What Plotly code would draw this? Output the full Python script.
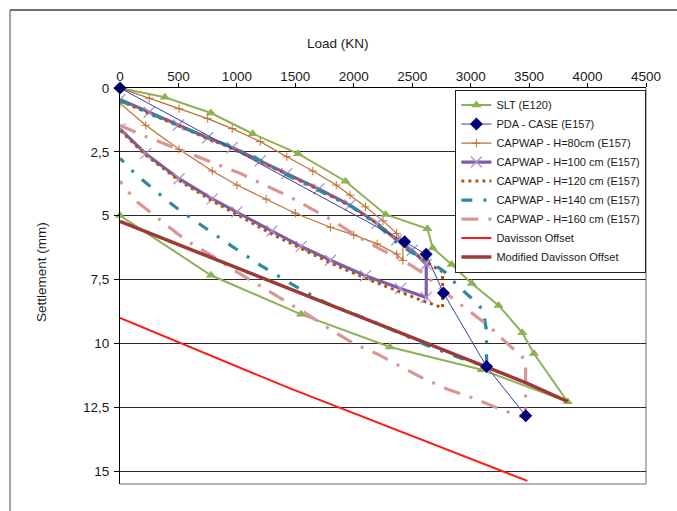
import plotly.graph_objects as go

# ---------------- data (Load kN, Settlement mm) ----------------
slt_load = [0, 384, 778, 1136, 1524, 1929, 2272, 2630, 2675, 2837, 3010, 3239, 3442, 3541, 3830,
            3095, 2309, 1549, 778, 0]
slt_settle = [0, 0.36, 0.98, 1.79, 2.57, 3.65, 4.95, 5.51, 6.26, 6.91, 7.65, 8.51, 9.58, 10.39, 12.28,
              11.03, 10.14, 8.86, 7.33, 4.99]

pda_load = [0, 2435, 2619, 2767, 3136, 3471]
pda_settle = [0, 6.02, 6.51, 8.02, 10.9, 12.83]

c80_load = [0, 250, 505, 750, 960, 1200, 1427, 1650, 1850, 1968, 2100, 2250, 2367, 2420,
            2420, 2367, 2200, 2000, 1800, 1500, 1250, 1000, 789, 505, 220, 0]
c80_settle = [0, 0.4, 0.81, 1.2, 1.59, 2.1, 2.69, 3.25, 3.8, 4.19, 4.65, 5.2, 5.69, 6.0,
              6.75, 6.5, 6.1, 5.75, 5.45, 4.9, 4.35, 3.8, 3.25, 2.4, 1.46, 0.6]

c100_load = [0, 250, 500, 750, 960, 1200, 1427, 1700, 1968, 2200, 2367, 2500, 2620,
             2620, 2400, 2100, 1800, 1550, 1300, 1000, 789, 505, 220, 0]
c100_settle = [0.45, 0.95, 1.45, 1.95, 2.33, 2.85, 3.35, 3.95, 4.58, 5.3, 5.95, 6.35, 6.9,
               8.2, 7.85, 7.35, 6.74, 6.2, 5.6, 4.85, 4.34, 3.55, 2.57, 1.6]

c120_load = [0, 250, 500, 750, 960, 1200, 1427, 1700, 1968, 2200, 2367, 2500, 2650, 2760,
             2760, 2600, 2400, 2100, 1800, 1550, 1300, 1000, 789, 505, 220, 0]
c120_settle = [0.5, 1.0, 1.5, 1.98, 2.36, 2.88, 3.38, 3.98, 4.62, 5.3, 5.95, 6.4, 6.9, 7.2,
               8.6, 8.35, 8.0, 7.45, 6.85, 6.3, 5.72, 4.95, 4.42, 3.62, 2.63, 1.65]

c140_load = [0, 250, 500, 750, 960, 1200, 1427, 1700, 1968, 2200, 2367, 2500, 2651, 2780, 2880,
             3000, 3107, 3136, 3136, 2900, 2623, 2224, 1769, 1484, 1199, 943, 800, 660, 530,
             402, 277, 140, 0]
c140_settle = [0.48, 0.97, 1.47, 1.96, 2.31, 2.83, 3.41, 4.0, 4.6, 5.35, 6.05, 6.45, 6.8, 7.2, 7.7,
               8.2, 8.7, 9.5, 10.9, 10.55, 10.07, 9.25, 8.43, 7.72, 6.93, 6.15, 5.69, 5.25, 4.85,
               4.4, 3.94, 3.4, 2.75]

c160_load = [0, 191, 390, 618, 817, 1028, 1228, 1427, 1627, 1826, 2025, 2223, 2421, 2596, 2737,
             2936, 3164, 3278, 3362, 3470, 3470, 3400, 3221, 3000, 2808, 2600, 2400, 2196, 2000,
             1800, 1600, 1400, 1200, 1000, 800, 587, 488, 300, 132, 0]
c160_settle = [1.46, 1.85, 2.2, 2.6, 2.96, 3.34, 3.78, 4.2, 4.7, 5.2, 5.8, 6.3, 6.75, 7.25, 7.85,
               8.55, 9.35, 9.85, 10.2, 10.65, 12.9, 12.82, 12.51, 12.1, 11.8, 11.38, 10.9, 10.4, 10.0,
               9.45, 8.85, 8.3, 7.75, 7.2, 6.6, 6.02, 5.69, 5.0, 4.4, 3.65]

dav_load = [0, 1455, 3486]
dav_settle = [9.0, 11.76, 15.38]

mdav_load = [0, 3480, 3830]
mdav_settle = [5.22, 11.55, 12.27]

x_ticks = [0, 500, 1000, 1500, 2000, 2500, 3000, 3500, 4000, 4500]
y_ticks = [0, 2.5, 5, 7.5, 10, 12.5, 15]
y_ticktext = ["0", "2,5", "5", "7,5", "10", "12,5", "15"]

names = ["SLT (E120)", "PDA - CASE (E157)", "CAPWAP - H=80cm (E157)", "CAPWAP - H=100 cm (E157)",
         "CAPWAP - H=120 cm (E157)", "CAPWAP - H=140 cm (E157)", "CAPWAP - H=160 cm (E157)",
         "Davisson Offset", "Modified Davisson Offset"]

FONT = "Arial, Liberation Sans, sans-serif"

fig = go.Figure()

fig.add_trace(go.Scatter(x=slt_load, y=slt_settle, name=names[0], mode="lines+markers",
                         line=dict(color="#8DB255", width=2),
                         marker=dict(symbol="triangle-up", size=9, color="#8DB255"),
                         cliponaxis=False))
fig.add_trace(go.Scatter(x=c80_load, y=c80_settle, name=names[2], mode="lines+markers",
                         line=dict(color="#C0702E", width=1.2),
                         marker=dict(symbol="cross-thin-open", size=6, color="#C0702E",
                                     line=dict(width=1, color="#C0702E"))))
fig.add_trace(go.Scatter(x=c100_load, y=c100_settle, name=names[3], mode="lines+markers",
                         line=dict(color="#7B5EA7", width=3.2),
                         marker=dict(symbol="x-thin-open", size=11, color="#A896D8",
                                     line=dict(width=1.3, color="#A896D8"))))
fig.add_trace(go.Scatter(x=c120_load, y=c120_settle, name=names[4], mode="lines",
                         line=dict(color="#B2560F", width=3, dash="3px,4px")))
fig.add_trace(go.Scatter(x=c140_load, y=c140_settle, name=names[5], mode="lines",
                         line=dict(color="#2E8A9E", width=3.2, dash="11px,11px,3px,11px")))
fig.add_trace(go.Scatter(x=c160_load, y=c160_settle, name=names[6], mode="lines",
                         line=dict(color="#DA9695", width=3.2, dash="17px,10px,3px,10px")))
fig.add_trace(go.Scatter(x=dav_load, y=dav_settle, name=names[7], mode="lines",
                         line=dict(color="#FF1A1A", width=2)))
fig.add_trace(go.Scatter(x=mdav_load, y=mdav_settle, name=names[8], mode="lines",
                         line=dict(color="#9C3A36", width=3.5)))
fig.add_trace(go.Scatter(x=pda_load, y=pda_settle, name=names[1], mode="lines+markers",
                         line=dict(color="#3B3BB5", width=1),
                         marker=dict(symbol="diamond", size=10, color="#00007A"),
                         cliponaxis=False))

# legend order as in reference
order = {n: i for i, n in enumerate(names)}
for tr in fig.data:
    tr.legendrank = order[tr.name] + 1

fig.update_layout(
    width=677, height=511,
    margin=dict(l=120, r=31, t=88, b=27),
    paper_bgcolor="white", plot_bgcolor="white",
    font=dict(family=FONT, size=13, color="#1a1a1a"),
    showlegend=True,
    legend=dict(x=0.6376, y=0.996, xanchor="left", yanchor="top",
                bgcolor="white", bordercolor="#222222", borderwidth=1,
                font=dict(family=FONT, size=11, color="#1a1a1a"),
                tracegroupgap=0, itemwidth=30),
    xaxis=dict(range=[0, 4500], side="top", tickvals=x_ticks, showgrid=False, zeroline=False,
               showline=True, linecolor="black", linewidth=1, ticks="outside", ticklen=4,
               tickcolor="black", tickfont=dict(size=13.5), ticklabelstandoff=-3),
    yaxis=dict(range=[15.5, 0], tickvals=y_ticks, ticktext=y_ticktext, showgrid=True,
               gridcolor="#2a2a2a", gridwidth=1.4, zeroline=False, showline=True,
               linecolor="black", linewidth=1, ticks="outside", ticklen=5, tickcolor="black",
               tickfont=dict(size=13.5), ticklabelstandoff=2),
    annotations=[
        dict(text="Load (KN)", xref="paper", yref="paper", x=0.4144, y=1.1136,
             xanchor="center", yanchor="middle", showarrow=False, font=dict(size=13.5)),
        dict(text="Settlement (mm)", xref="paper", yref="paper", x=-0.1483, y=0.5354,
             xanchor="center", yanchor="middle", textangle=-90, showarrow=False,
             font=dict(size=13.5)),
    ],
    shapes=[
        # plot area right / bottom border
        dict(type="line", xref="paper", yref="paper", x0=1, x1=1, y0=0, y1=1,
             line=dict(color="#9a9a9a", width=1.5), layer="below"),
        dict(type="line", xref="paper", yref="paper", x0=0, x1=1, y0=0, y1=0,
             line=dict(color="#9a9a9a", width=1.5), layer="below"),
        # outer chart border
        dict(type="line", xref="paper", yref="paper", x0=-0.2091, x1=-0.2091, y0=-0.08, y1=1.197,
             line=dict(color="#a0a0a0", width=2)),
        dict(type="line", xref="paper", yref="paper", x0=-0.2091, x1=1.07, y0=1.197, y1=1.197,
             line=dict(color="#707070", width=2)),
    ],
)

fig.write_html("out.html")
